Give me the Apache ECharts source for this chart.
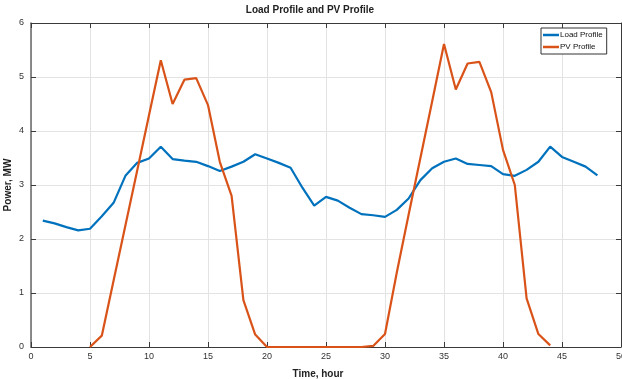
<!DOCTYPE html>
<html>
<head>
<meta charset="utf-8">
<script src="https://cdn.jsdelivr.net/npm/echarts@6/dist/echarts.min.js"></script>
<style>html,body{margin:0;padding:0;background:#fff;}#c{width:622px;height:379px;}</style>
</head>
<body>
<div id="c"></div>
<script>
const loadHours = [1,2,3,4,5,6,7,8,9,10,11,12,13,14,15,16,17,18,19,20,21,22,23,24,25,26,27,28,29,30,31,32,33,34,35,36,37,38,39,40,41,42,43,44,45,46,47,48];
const loadValues = [2.34,2.29,2.22,2.16,2.19,2.42,2.67,3.17,3.41,3.49,3.71,3.48,3.45,3.43,3.35,3.26,3.34,3.43,3.57,3.49,3.41,3.32,2.95,2.62,2.78,2.71,2.58,2.46,2.44,2.41,2.54,2.75,3.09,3.31,3.43,3.49,3.39,3.37,3.35,3.20,3.17,3.28,3.43,3.71,3.52,3.43,3.34,3.18];
const pvHours = [5,6,7,8,9,10,11,12,13,14,15,16,17,18,19,20,21,22,23,24,25,26,27,28,29,30,31,32,33,34,35,36,37,38,39,40,41,42,43,44];
const pvValues = [0,0.21,1.23,2.25,3.27,4.29,5.31,4.50,4.95,4.98,4.48,3.43,2.80,0.87,0.23,0,0,0,0,0,0,0,0,0,0.02,0.24,1.38,2.45,3.50,4.55,5.61,4.77,5.25,5.28,4.72,3.65,3.00,0.90,0.24,0.03];
const xTicks = {min:0, max:50, interval:5};
const yTicks = {min:0, max:6, interval:1};

const pair = (xs, ys) => xs.map((x,i)=>[x, ys[i]]);
const axisCol = '#3a3a3a';
const labelFont = {fontFamily:'Liberation Sans, Arial, sans-serif', fontSize:9, color:'#333'};
const nameFont = {fontFamily:'Liberation Sans, Arial, sans-serif', fontSize:10, fontWeight:'bold', color:'#222'};
const chart = echarts.init(document.getElementById('c'));
chart.setOption({
  animation:false,
  backgroundColor:'#fff',
  title:{text:'Load Profile and PV Profile', left:305, textAlign:'center', top:0,
    textStyle:{fontFamily:'Liberation Sans, Arial, sans-serif', fontSize:10, fontWeight:'bold', color:'#222'}},
  grid:{left:31, right:1, top:23, bottom:32, containLabel:false, outerBoundsMode:'none'},
  legend:{orient:'vertical', left:541, top:28, width:70, padding:[3,4,3,2], itemGap:4,
    backgroundColor:'#fff', borderColor:'#333', borderWidth:1,
    icon:'rect', itemWidth:16, itemHeight:2.5,
    textStyle:{fontFamily:'Liberation Sans, Arial, sans-serif', fontSize:8, color:'#111', padding:[0,8,0,-4]},
    data:['Load Profile','PV Profile']},
  xAxis:[{type:'value', min:xTicks.min, max:xTicks.max, interval:xTicks.interval, position:'bottom',
    name:'Time, hour', nameLocation:'middle', nameGap:22, nameMoveOverlap:false,
    nameTextStyle:Object.assign({padding:[0,16,0,0]}, nameFont),
    axisLine:{onZero:false, lineStyle:{color:axisCol, width:1}},
    axisTick:{inside:true, length:5, lineStyle:{color:axisCol}},
    axisLabel:Object.assign({margin:5}, labelFont),
    splitLine:{show:true, lineStyle:{color:'#e3e3e3', width:1}}},
   {type:'value', min:xTicks.min, max:xTicks.max, interval:xTicks.interval, position:'top',
    axisLine:{onZero:false, lineStyle:{color:axisCol, width:1}},
    axisTick:{inside:true, length:5, lineStyle:{color:axisCol}},
    axisLabel:{show:false}, splitLine:{show:false}}],
  yAxis:[{type:'value', min:yTicks.min, max:yTicks.max, interval:yTicks.interval, position:'left',
    name:'Power, MW', nameLocation:'middle', nameGap:18, nameMoveOverlap:false,
    nameTextStyle:nameFont,
    axisLine:{show:true, onZero:false, lineStyle:{color:'#666', width:1.5}},
    axisTick:{show:true, inside:true, length:5, lineStyle:{color:axisCol}},
    axisLabel:Object.assign({margin:7}, labelFont),
    splitLine:{show:true, lineStyle:{color:'#e3e3e3', width:1}}},
   {type:'value', min:yTicks.min, max:yTicks.max, interval:yTicks.interval, position:'right',
    axisLine:{show:true, onZero:false, lineStyle:{color:axisCol, width:1}},
    axisTick:{show:true, inside:true, length:5, lineStyle:{color:axisCol}},
    axisLabel:{show:false}, splitLine:{show:false}}],
  series:[
    {name:'Load Profile', type:'line', data:pair(loadHours, loadValues), symbol:'none',
     lineStyle:{color:'#0072BD', width:2.2}, itemStyle:{color:'#0072BD'}, z:3},
    {name:'PV Profile', type:'line', data:pair(pvHours, pvValues), symbol:'none',
     lineStyle:{color:'#D95319', width:2.2}, itemStyle:{color:'#D95319'}, z:4}
  ]
});
</script>
</body>
</html>
